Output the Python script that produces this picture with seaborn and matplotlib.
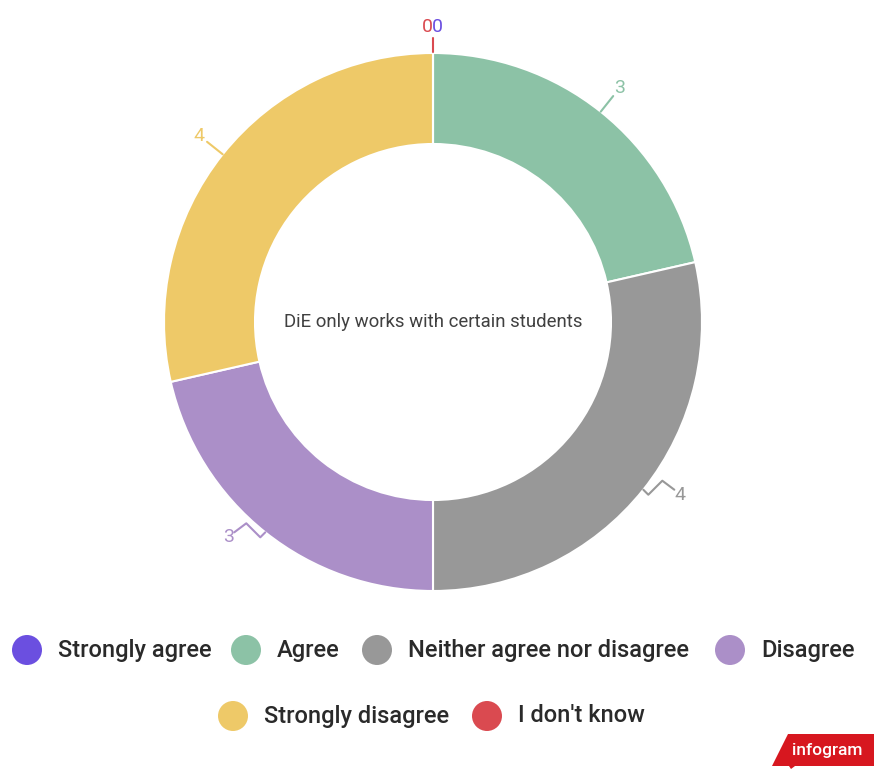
import numpy as np
import matplotlib
matplotlib.use("Agg")
import matplotlib.pyplot as plt
from matplotlib.patches import Circle, Polygon
import seaborn as sns

# Survey answers for the statement shown in the middle of the ring
categories = ["Strongly agree", "Agree", "Neither agree nor disagree",
              "Disagree", "Strongly disagree", "I don't know"]
counts = [0, 3, 4, 3, 4, 0]
colors = ["#6B4FE0", "#8CC2A6", "#989898", "#AB8FC8", "#EEC968", "#DA4A50"]
center_title = "DiE only works with certain students"

sns.set_style("white")
plt.rcParams["font.family"] = ["Roboto", "DejaVu Sans"]

W, H = 874, 769
fig = plt.figure(figsize=(W / 100, H / 100), dpi=100)
ax = fig.add_axes([0, 0, 1, 1])

def Y(y):
    return H - y

cx, cy = 433, 322
R, ring = 269, 91

wedges, _ = ax.pie(counts, colors=colors, startangle=90, counterclock=False,
                   center=(cx, Y(cy)), radius=R,
                   wedgeprops=dict(width=ring, edgecolor="white", linewidth=1.5))
ax.set_xlim(0, W)
ax.set_ylim(0, H)
ax.set_aspect("equal")
ax.axis("off")

ax.text(cx, Y(cy), center_title, ha="center", va="center",
        fontsize=13.4, color="#404040")

# value labels with leader lines, placed from each wedge's middle angle
total = sum(counts)
start = 0.0
for i, (v, c) in enumerate(zip(counts, colors)):
    mid = start + v / total * 360 / 2
    start += v / total * 360
    a = np.deg2rad(mid)
    sx, sy = np.sin(a), np.cos(a)
    px, py = cx + R * sx, cy - R * sy
    if v == 0:
        continue
    if sy > 0:
        # straight radial leader in the upper half
        qx, qy = cx + (R + 20) * sx, cy - (R + 20) * sy
        ax.plot([px, qx], [Y(py), Y(qy)], color=c, lw=1.5)
        tx, ty = cx + (R + 30) * sx, cy - (R + 30) * sy
    else:
        # kinked leader in the lower half
        d = 1 if sx > 0 else -1
        pts = [(0, 0), (5 * d, 5), (19 * d, -9), (31 * d, 0)]
        xs = [px + dx for dx, dy in pts]
        ys = [Y(py + dy) for dx, dy in pts]
        ax.plot(xs, ys, color=c, lw=1.5)
        tx, ty = px + 37 * d, py + 5
    ax.text(tx, Y(ty), str(v), ha="center", va="center", fontsize=14, color=c)

# the two empty answers sit together at the top of the ring
ax.plot([cx, cx], [Y(52), Y(38)], color=colors[5], lw=1.5)
ax.text(cx, Y(27), str(counts[5]), ha="right", va="center",
        fontsize=14, color=colors[5])
ax.text(cx - 1, Y(27), str(counts[0]), ha="left", va="center",
        fontsize=14, color=colors[0])

# legend rows
rows = [[(27, 0), (246, 1), (377, 2), (730, 3)], [(233, 4), (487, 5)]]
row_y = [650, 716]
for ry, row in zip(row_y, rows):
    for x, idx in row:
        ax.add_patch(Circle((x, Y(ry)), 15, color=colors[idx], lw=0))
        ax.text(x + 31, Y(ry), categories[idx], ha="left", va="center",
                fontsize=17, color="#2a2a2a", fontweight="medium")

# brand tag in the corner
ax.add_patch(Polygon([(772, Y(766)), (788, Y(734)), (874, Y(734)), (874, Y(766)),
                      (795, Y(766)), (791, Y(769)), (789, Y(766))],
                     closed=True, color="#D7171F", lw=0))
ax.text(827, Y(750), "infogram", ha="center", va="center", fontsize=12.5,
        color="white", fontweight="medium")

fig.savefig("out.png", dpi=100)
